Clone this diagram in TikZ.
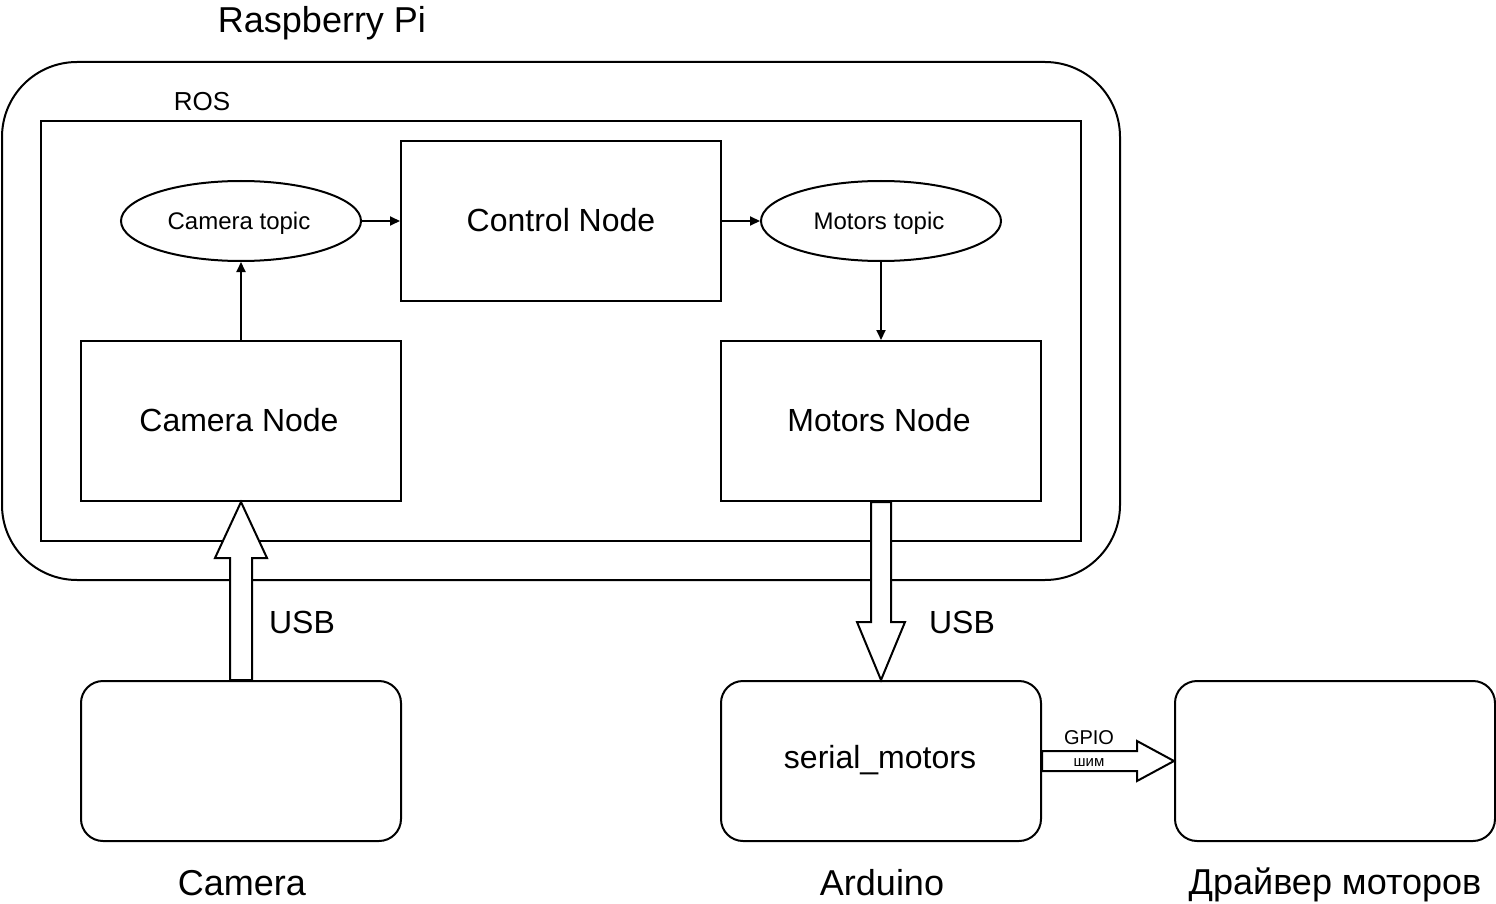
\documentclass[tikz,border=0pt]{standalone}
\usepackage{fontspec}
\setmainfont{Liberation Sans}
\usetikzlibrary{arrows.meta,shapes.geometric,calc}
\tikzset{
  box/.style={draw,line width=2pt,minimum width=320pt,minimum height=160pt,inner sep=0pt,fill=white},
  rbox/.style={box,rounded corners=22pt},
  topic/.style={draw,ellipse,line width=2pt,minimum width=240pt,minimum height=80pt,inner sep=0pt,fill=white},
  thin/.style={line width=2pt,-{Triangle[length=10pt,width=9pt]}},
  block/.style={draw,line width=2pt,fill=white,line join=miter},
  lbl/.style={inner sep=0pt,anchor=center},
}
\newcommand{\fs}[1]{\fontsize{#1}{#1}\selectfont}
\begin{document}
\begin{tikzpicture}[x=1pt,y=-1pt]
\useasboundingbox (0,0) rectangle (1496,904);
% containers
\draw[line width=2pt,rounded corners=75pt] (2,62) rectangle (1120,580);
\draw[line width=2pt] (41,121) rectangle (1081,541);
\node[lbl] (rpi) at (322,23) {\fs{36}Raspberry Pi};
\node[lbl] (ros) at (202,102) {\fs{26}ROS};
% nodes
\node[topic] (ctopic) at (241,221) {};
\node[lbl] (ctext) at (239,223) {\fs{24}Camera topic};
\node[box] (control) at (561,221) {};
\node[lbl] (ctrltext) at (561,220) {\fs{32}Control Node};
\node[topic] (mtopic) at (881,221) {};
\node[lbl] (mtext) at (879,223) {\fs{24}Motors topic};
\node[box] (cnode) at (241,421) {};
\node[lbl] (cntext) at (239,420) {\fs{32}Camera Node};
\node[box] (mnode) at (881,421) {};
\node[lbl] (mntext) at (879,420) {\fs{32}Motors Node};
\node[rbox] (camera) at (241,761) {};
\node[rbox] (serial) at (881,761) {};
\node[lbl] (stext) at (880,760) {\fs{32}serial\_motors};
\node[rbox] (driver) at (1335,761) {};
\node[lbl] (camlbl) at (242,883) {\fs{36}Camera};
\node[lbl] (ardlbl) at (882,883) {\fs{36}Arduino};
\node[lbl] (drvlbl) at (1335,885) {\fs{36}Драйвер моторов};
\node[lbl] (usb1) at (302,622) {\fs{32}USB};
\node[lbl] (usb2) at (962,622) {\fs{32}USB};
% thin connectors
\draw[thin] (cnode.north) -- (ctopic.south);
\draw[thin] (ctopic.east) -- (control.west);
\draw[thin] (control.east) -- (mtopic.west);
\draw[thin] (mtopic.south) -- (mnode.north);
% block arrow up (camera -> camera node)
\draw[block] ($(camera.north)+(-11,0)$) -- ++(0,-122) -- ++(-15,0) -- (cnode.south) -- ($(camera.north)+(26,-122)$) -- ++(-15,0) -- ($(camera.north)+(11,0)$) -- cycle;
% block arrow down (motors node -> serial)
\draw[block] ($(mnode.south)+(-10,0)$) -- ++(0,120) -- ++(-14,0) -- (serial.north) -- ($(mnode.south)+(24,120)$) -- ++(-14,0) -- ($(mnode.south)+(10,0)$) -- cycle;
% GPIO block arrow
\draw[block] ($(serial.east)+(0,-10)$) -- ++(95,0) -- ++(0,-10) -- (driver.west) -- ($(serial.east)+(95,20)$) -- ++(0,-10) -- ($(serial.east)+(0,10)$) -- cycle;
\node[lbl] (gpio) at (1089,738) {\fs{20}GPIO};
\node[lbl] (shim) at (1089,763) {\fs{15}шим};
\end{tikzpicture}
\end{document}
